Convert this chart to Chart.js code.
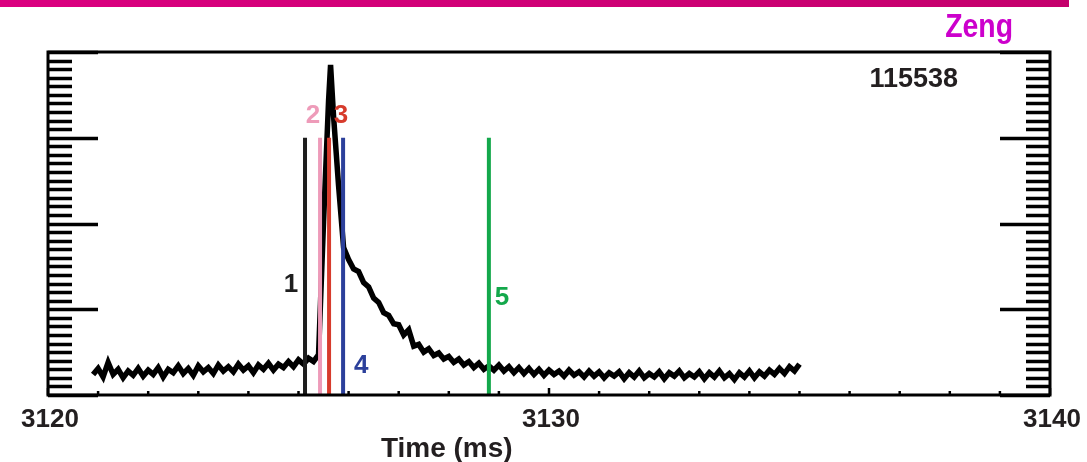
<!DOCTYPE html>
<html>
<head>
<meta charset="utf-8">
<script src="https://cdn.jsdelivr.net/npm/chart.js@4/dist/chart.umd.min.js"></script>
<style>
  body { margin: 0; background: #fff; }
  #wrap { position: relative; width: 1087px; height: 462px; }
</style>
</head>
<body>
<div id="wrap"><canvas id="shotChart" width="1087" height="462"></canvas></div>
<script>
// signal trace (time in ms, arbitrary units)
const times = [
  3120.9, 3121.0, 3121.1, 3121.2, 3121.3, 3121.4, 3121.5, 3121.6, 3121.7, 3121.8, 3121.9,
  3122.0, 3122.1, 3122.2, 3122.3, 3122.4, 3122.5, 3122.6, 3122.7, 3122.8, 3122.9,
  3123.0, 3123.1, 3123.2, 3123.3, 3123.4, 3123.5, 3123.6, 3123.7, 3123.8, 3123.9,
  3124.0, 3124.1, 3124.2, 3124.3, 3124.4, 3124.5, 3124.6, 3124.7, 3124.8, 3124.9,
  3125.0, 3125.1, 3125.2, 3125.3, 3125.4, 3125.5, 3125.6, 3125.64, 3125.7, 3125.8, 3125.9,
  3126.0, 3126.1, 3126.2, 3126.3, 3126.4, 3126.5, 3126.6, 3126.7, 3126.8, 3126.9,
  3127.0, 3127.1, 3127.2, 3127.3, 3127.4, 3127.5, 3127.6, 3127.7, 3127.8, 3127.9,
  3128.0, 3128.1, 3128.2, 3128.3, 3128.4, 3128.5, 3128.6, 3128.7, 3128.8, 3128.9,
  3129.0, 3129.1, 3129.2, 3129.3, 3129.4, 3129.5, 3129.6, 3129.7, 3129.8, 3129.9,
  3130.0, 3130.1, 3130.2, 3130.3, 3130.4, 3130.5, 3130.6, 3130.7, 3130.8, 3130.9,
  3131.0, 3131.1, 3131.2, 3131.3, 3131.4, 3131.5, 3131.6, 3131.7, 3131.8, 3131.9,
  3132.0, 3132.1, 3132.2, 3132.3, 3132.4, 3132.5, 3132.6, 3132.7, 3132.8, 3132.9,
  3133.0, 3133.1, 3133.2, 3133.3, 3133.4, 3133.5, 3133.6, 3133.7, 3133.8, 3133.9,
  3134.0, 3134.1, 3134.2, 3134.3, 3134.4, 3134.5, 3134.6, 3134.7, 3134.8, 3134.9, 3135.0
];
const signal = [
  0.24, 0.31, 0.21, 0.38, 0.24, 0.30, 0.20, 0.28, 0.23, 0.31, 0.22,
  0.29, 0.24, 0.32, 0.21, 0.30, 0.26, 0.34, 0.25, 0.31, 0.23,
  0.34, 0.27, 0.32, 0.25, 0.35, 0.28, 0.33, 0.27, 0.36, 0.29,
  0.34, 0.26, 0.35, 0.30, 0.37, 0.29, 0.36, 0.32, 0.39, 0.33,
  0.41, 0.36, 0.43, 0.39, 0.47, 2.02, 3.43, 3.85, 3.25, 2.44, 1.72,
  1.58, 1.47, 1.44, 1.31, 1.26, 1.13, 1.08, 0.96, 0.93, 0.83,
  0.82, 0.70, 0.76, 0.57, 0.59, 0.50, 0.54, 0.46, 0.49, 0.42,
  0.45, 0.38, 0.42, 0.35, 0.39, 0.32, 0.37, 0.30, 0.34, 0.29,
  0.35, 0.28, 0.33, 0.26, 0.32, 0.25, 0.31, 0.24, 0.30, 0.23,
  0.29, 0.24, 0.28, 0.22, 0.29, 0.23, 0.27, 0.21, 0.28, 0.22,
  0.27, 0.20, 0.26, 0.22, 0.27, 0.19, 0.26, 0.21, 0.28, 0.20,
  0.25, 0.21, 0.27, 0.19, 0.26, 0.22, 0.28, 0.20, 0.25, 0.21,
  0.27, 0.19, 0.26, 0.21, 0.28, 0.20, 0.25, 0.18, 0.26, 0.21,
  0.28, 0.20, 0.27, 0.22, 0.29, 0.24, 0.31, 0.25, 0.33, 0.28, 0.36
];

// vertical time markers 1..5
const markerNames = ['1', '2', '3', '4', '5'];
const markerTimes = [3125.13, 3125.43, 3125.61, 3125.89, 3128.80];
const markerColors = ['#1e1e1e', '#ee9bb9', '#d73b2c', '#2c409b', '#13a84b'];
const markerTop = 3.0;
// where each marker's number sits (time, value)
const markerLabelTimes = [3124.85, 3125.29, 3125.85, 3126.25, 3129.06];
const markerLabelValues = [1.28, 3.26, 3.26, 0.34, 1.13];

const xTickLabels = [3120, 3130, 3140];
const shotNumber = '115538';
const author = 'Zeng';
const xTitle = 'Time (ms)';

const signalData = times.map((t, i) => ({ x: t, y: signal[i] }));

const markerSets = markerTimes.map((t, i) => ({
  label: 'marker ' + markerNames[i],
  data: [{ x: t, y: 0 }, { x: t, y: markerTop }],
  borderColor: markerColors[i],
  borderWidth: 4,
  pointRadius: 0,
  borderCapStyle: 'butt',
  order: 0
}));

const boldFont = (size) => 'bold ' + size + 'px "Liberation Sans", Arial, sans-serif';

// frame, inward ticks and all the text
const framePlugin = {
  id: 'frame',
  afterDraw(chart) {
    const ctx = chart.ctx;
    const x = chart.scales.x, y = chart.scales.y;
    const a = chart.chartArea;
    ctx.save();

    // top band
    const band = ctx.createLinearGradient(0, 0, 1069, 0);
    band.addColorStop(0, '#db0080');
    band.addColorStop(1, '#c4006c');
    ctx.fillStyle = band;
    ctx.fillRect(0, 0, 1069, 7);

    ctx.strokeStyle = '#000';
    ctx.lineWidth = 3;
    ctx.strokeRect(a.left, a.top, a.right - a.left, a.bottom - a.top);

    // y ticks on both sides, every 0.1, long at whole units
    ctx.lineWidth = 3.5;
    for (let k = 0; k <= 40; k++) {
      const v = k / 10;
      const py = Math.round(y.getPixelForValue(v)) + 0.5;
      const len = (k % 10 === 0) ? 50 : 24;
      ctx.beginPath();
      ctx.moveTo(a.left, py); ctx.lineTo(a.left + len, py);
      ctx.moveTo(a.right, py); ctx.lineTo(a.right - len, py);
      ctx.stroke();
    }

    // x ticks, tiny, every ms along the bottom
    ctx.lineWidth = 2.5;
    for (let t = 3120; t <= 3140; t++) {
      const px = x.getPixelForValue(t);
      const len = (t % 10 === 0) ? 7 : 4;
      ctx.beginPath();
      ctx.moveTo(px, a.bottom); ctx.lineTo(px, a.bottom - len);
      ctx.stroke();
    }

    // x tick labels
    ctx.fillStyle = '#231f20';
    ctx.font = boldFont(26);
    ctx.textAlign = 'center';
    ctx.textBaseline = 'alphabetic';
    xTickLabels.forEach(t => ctx.fillText(String(t), x.getPixelForValue(t) + 2, a.bottom + 32));

    ctx.font = boldFont(28);
    ctx.fillText(xTitle, a.left + (a.right - a.left) * 0.398, a.bottom + 62);

    // marker numbers
    ctx.font = boldFont(26);
    ctx.textBaseline = 'middle';
    markerNames.forEach((n, i) => {
      ctx.fillStyle = markerColors[i];
      ctx.fillText(n, x.getPixelForValue(markerLabelTimes[i]), y.getPixelForValue(markerLabelValues[i]));
    });

    // shot number
    ctx.fillStyle = '#231f20';
    ctx.font = boldFont(27);
    ctx.textAlign = 'right';
    ctx.textBaseline = 'alphabetic';
    ctx.fillText(shotNumber, a.right - 92, a.top + 35);

    // author tag, condensed
    ctx.fillStyle = '#cc00cc';
    ctx.font = boldFont(33);
    ctx.textAlign = 'right';
    ctx.translate(1013, 37);
    ctx.scale(0.86, 1);
    ctx.fillText(author, 0, 0);

    ctx.restore();
  }
};

new Chart(document.getElementById('shotChart').getContext('2d'), {
  type: 'line',
  data: {
    datasets: [
      ...markerSets,
      {
        label: 'signal',
        data: signalData,
        borderColor: '#000',
        borderWidth: 5.5,
        pointRadius: 0,
        tension: 0,
        order: 10
      }
    ]
  },
  options: {
    responsive: false,
    animation: false,
    layout: { padding: { left: 48, right: 37, top: 52, bottom: 67 } },
    plugins: { legend: { display: false }, tooltip: { enabled: false } },
    scales: {
      x: { type: 'linear', min: 3120, max: 3140, display: false },
      y: { type: 'linear', min: 0, max: 4, display: false }
    }
  },
  plugins: [framePlugin]
});
</script>
</body>
</html>
